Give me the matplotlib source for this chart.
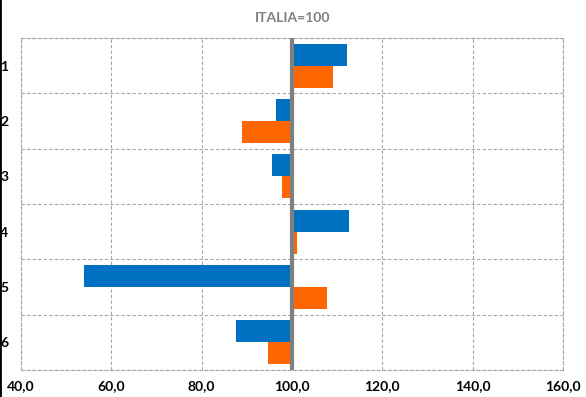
import numpy as np
import matplotlib
matplotlib.use('Agg')
import matplotlib.pyplot as plt
from matplotlib.lines import Line2D

categories = ['1', '2', '3', '4', '5', '6']
blue_values = [112.2, 96.5, 95.6, 112.6, 54.0, 87.6]
orange_values = [109.1, 89.0, 97.8, 101.0, 107.8, 94.7]
x_ticks = [40, 60, 80, 100, 120, 140, 160]
base = 100

plt.rcParams['font.family'] = ['Lato', 'DejaVu Sans']

fig = plt.figure(figsize=(5.86, 3.97), dpi=100)
ax = fig.add_axes([21 / 586, 27 / 397, 542 / 586, 332 / 397])

y = np.arange(len(categories))
ax.barh(y - 0.2, np.array(blue_values) - base, left=base, height=0.4,
        color='#0070C0', zorder=2)
ax.barh(y + 0.2, np.array(orange_values) - base, left=base, height=0.4,
        color='#FF6600', zorder=2)
ax.axvline(base, color='#808080', lw=3, zorder=3)

ax.set_xlim(40, 160)
ax.set_ylim(len(categories) - 0.5, -0.5)
ax.set_xticks(x_ticks)
ax.set_xticklabels([('%.1f' % t).replace('.', ',') for t in x_ticks])
ax.set_yticks(y)
ax.set_yticklabels(categories)
ax.set_yticks(np.arange(len(categories) + 1) - 0.5, minor=True)

grid_style = dict(color='#A6A6A6', lw=0.8, linestyle=(0, (3, 2)))
ax.grid(axis='x', which='major', zorder=0, **grid_style)
ax.grid(axis='y', which='minor', zorder=0, **grid_style)
ax.set_axisbelow(True)
for s in ax.spines.values():
    s.set(**grid_style)

ax.tick_params(axis='both', which='both', length=0)
ax.tick_params(axis='x', pad=7, labelsize=10)
ax.tick_params(axis='y', pad=9, labelsize=10)
for lbl in ax.get_xticklabels() + ax.get_yticklabels():
    lbl.set_fontweight('bold')

fig.text(0.5, 1 - 18 / 397, 'ITALIA=100', ha='center', va='center',
         color='#808080', fontsize=10, fontweight='bold')
fig.add_artist(Line2D([0, 0], [0, 1], transform=fig.transFigure,
                      color='black', lw=2))

fig.savefig('out.png', dpi=100)
